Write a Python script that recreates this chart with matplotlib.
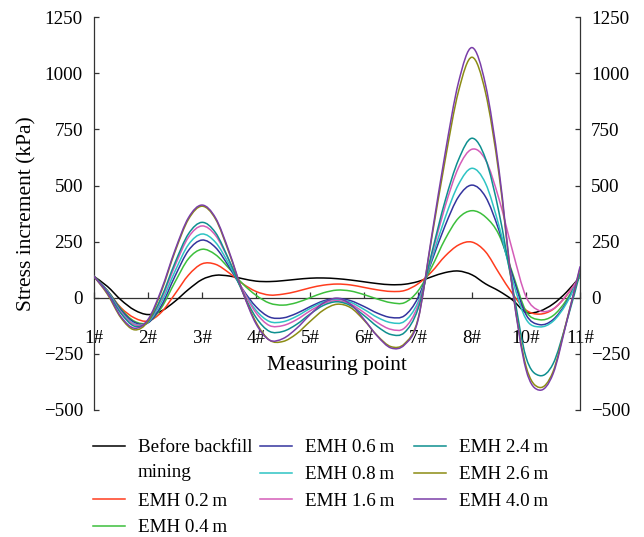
import matplotlib
matplotlib.use("Agg")
import matplotlib.pyplot as plt
from matplotlib.lines import Line2D
from matplotlib.path import Path
from matplotlib.patches import PathPatch

plt.rcParams['font.family'] = ['Liberation Serif', 'DejaVu Serif']

# ---------------- data ----------------
positions = [0, 0.25, 0.5, 0.75, 1, 1.25, 1.5, 1.75, 2, 2.25, 2.5, 2.75, 3,
             3.25, 3.5, 3.75, 4, 4.25, 4.5, 4.75, 5, 5.25, 5.5, 5.75, 6,
             6.25, 6.5, 6.75, 7, 7.25, 7.5, 7.75, 8, 8.25, 8.5, 8.75, 9]
point_ticks = [0, 1, 2, 3, 4, 5, 6, 7, 8, 9]
point_labels = ['1#', '2#', '3#', '4#', '5#', '6#', '7#', '8#', '10#', '11#']
y_ticks = [-500, -250, 0, 250, 500, 750, 1000, 1250]

before = [95, 50, -10, -55, -75, -59, -16, 37, 81, 100, 97, 85, 74, 72, 76, 82, 87, 88, 85,
          79, 71, 63, 58, 60, 72, 93, 112, 119, 102, 62, 30, -10, -65, -60, -28, 25, 94]
emh_02 = [95, 30, -45, -90, -104, -64, 17, 101, 151, 149, 111, 63, 28, 12, 16, 28, 44, 56, 61,
          57, 46, 35, 28, 32, 62, 115, 185, 235, 248, 205, 110, 18, -55, -73, -52, 10, 95]
emh_04 = [95, 32, -50, -105, -110, -44, 70, 174, 216, 192, 131, 63, 11, -24, -33, -22, 0, 22, 34,
          30, 14, -6, -22, -22, 30, 135, 260, 355, 388, 360, 280, 110, -60, -98, -80, -10, 100]
emh_06 = [95, 30, -55, -110, -112, -34, 96, 211, 257, 224, 138, 39, -40, -86, -90, -70, -40, -14, -3,
          -13, -39, -69, -88, -80, 0, 160, 320, 450, 502, 450, 300, 100, -75, -120, -98, -20, 100]
emh_08 = [95, 28, -62, -117, -109, -19, 118, 237, 284, 247, 150, 35, -56, -106, -107, -83, -48, -19, -7,
          -20, -52, -88, -111, -105, -20, 170, 355, 505, 577, 510, 320, 80, -95, -130, -105, -25, 100]
emh_16 = [95, 27, -65, -120, -106, -5, 143, 270, 320, 278, 167, 37, -67, -124, -124, -98, -59, -26, -13,
          -28, -66, -111, -141, -135, -35, 185, 405, 580, 662, 615, 440, 210, 5, -58, -50, 10, 95]
emh_24 = [95, 25, -70, -127, -106, 3, 156, 285, 336, 290, 168, 26, -88, -150, -150, -119, -73, -34, -18,
          -35, -79, -129, -164, -155, -50, 195, 430, 615, 711, 620, 380, 50, -265, -347, -295, -110, 110]
emh_26 = [95, 15, -90, -143, -105, 30, 205, 350, 408, 351, 201, 28, -109, -189, -195, -161, -106, -55, -29,
          -44, -100, -170, -218, -205, -95, 260, 610, 920, 1072, 915, 550, 40, -305, -400, -330, -105, 130]
emh_40 = [95, 20, -85, -136, -97, 37, 212, 357, 413, 356, 207, 28, -116, -189, -182, -137, -76, -23, -3,
          -29, -96, -172, -224, -210, -100, 270, 640, 960, 1115, 950, 570, 40, -320, -412, -340, -110, 138]

series_labels = ['Before backfill\nmining', 'EMH 0.2\u2009m', 'EMH 0.4\u2009m', 'EMH 0.6\u2009m',
                 'EMH 0.8\u2009m', 'EMH 1.6\u2009m', 'EMH 2.4\u2009m', 'EMH 2.6\u2009m', 'EMH 4.0\u2009m']
series_values = [before, emh_02, emh_04, emh_06, emh_08, emh_16, emh_24, emh_26, emh_40]
series_colors = ['#000000', '#ff3c1e', '#3cbf3c', '#34349e', '#2ec4c4',
                 '#d45cb8', '#0e8f8f', '#8c8c14', '#7a3ea8']


def smooth_path(xs, ys):
    """Smooth Bezier path passing through every read point (spline-style line)."""
    n = len(xs)
    verts = [(xs[0], ys[0])]
    codes = [Path.MOVETO]
    for i in range(n - 1):
        a, b = max(i - 1, 0), min(i + 2, n - 1)
        c1 = (xs[i] + (xs[i + 1] - xs[a]) / 6, ys[i] + (ys[i + 1] - ys[a]) / 6)
        c2 = (xs[i + 1] - (xs[b] - xs[i]) / 6, ys[i + 1] - (ys[b] - ys[i]) / 6)
        verts += [c1, c2, (xs[i + 1], ys[i + 1])]
        codes += [Path.CURVE4] * 3
    return Path(verts, codes)


# ---------------- figure ----------------
W, H = 644, 537
fig = plt.figure(figsize=(W / 100, H / 100), dpi=100)
ax = fig.add_axes([94 / W, 1 - 409.9 / H, 486 / W, (409.9 - 17.3) / H])

for vals, col in zip(series_values, series_colors):
    ax.add_patch(PathPatch(smooth_path(positions, vals), facecolor='none',
                           edgecolor=col, lw=1.1, zorder=3, capstyle='round',
                           joinstyle='round'))

ax.set_xlim(0, 9)
ax.set_ylim(-500, 1250)
spine_col = '#333333'
ax.spines['top'].set_visible(False)
ax.spines['bottom'].set_position(('data', 0))
for s in ['left', 'right', 'bottom']:
    ax.spines[s].set_color(spine_col)
    ax.spines[s].set_linewidth(0.9)

ax.set_xticks(point_ticks)
ax.set_xticklabels(point_labels)
ax.set_yticks(y_ticks)
ax.tick_params(axis='x', direction='in', length=4.3, width=0.9, color=spine_col,
               pad=23, labelsize=13.7)
ax.tick_params(axis='y', direction='in', length=3.6, width=0.9, color=spine_col,
               pad=8, labelsize=13.7, left=True, right=True, labelleft=True, labelright=True)

ax.set_xlabel('Measuring point', fontsize=15.3)
ax.xaxis.set_label_coords(0.5, 0.137)
ax.set_ylabel('Stress increment (kPa)', fontsize=15.5)
ax.yaxis.set_label_coords(-0.118, 0.5)

# ---------------- legend (three columns below the plot) ----------------
col_x = [93, 260, 414]
row_y0, row_dy = 446, 26.7
slots = [(0, 0), (0, 2), (0, 3), (1, 0), (1, 1), (1, 2), (2, 0), (2, 1), (2, 2)]
for (c, r), lab, col in zip(slots, series_labels, series_colors):
    yh = row_y0 + r * row_dy
    x0 = col_x[c]
    fig.add_artist(Line2D([x0 / W, (x0 + 32) / W], [1 - yh / H, 1 - yh / H],
                          transform=fig.transFigure, color=col, lw=1.1))
    lines = lab.split('\n')
    for k, t in enumerate(lines):
        yb = yh + 6.3 + k * 24.7
        fig.text((x0 + 45) / W, 1 - yb / H, t, fontsize=13.7, va='baseline', ha='left')

fig.savefig('out.png', dpi=100)
